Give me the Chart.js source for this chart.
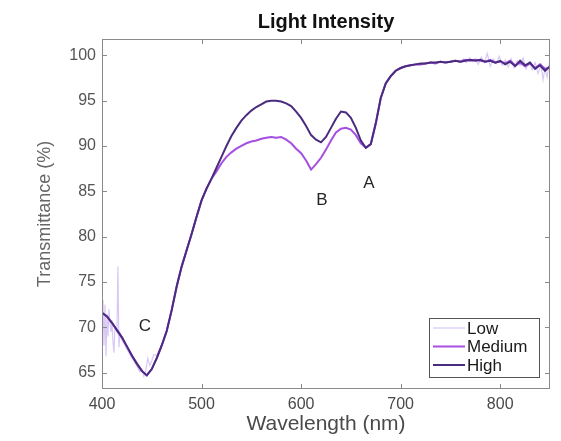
<!DOCTYPE html>
<html>
<head>
<meta charset="utf-8">
<title>Light Intensity</title>
<script src="https://cdn.jsdelivr.net/npm/chart.js@4/dist/chart.umd.min.js"></script>
<style>
  html, body { margin: 0; padding: 0; background: #ffffff; }
  canvas { display: block; }
</style>
</head>
<body>
<canvas id="chart" width="561" height="441"></canvas>
<script>
// Transmittance spectra (%) for three light intensities.
const wavelengths = [
  400, 405, 410, 415, 420, 425, 430, 435, 440, 445,
  450, 455, 460, 465, 470, 475, 480, 485, 490, 495,
  500, 505, 510, 515, 520, 525, 530, 535, 540, 545,
  550, 555, 560, 565, 570, 575, 580, 585, 590, 595,
  600, 605, 610, 615, 620, 625, 630, 635, 640, 645,
  650, 655, 660, 665, 670, 675, 680, 685, 690, 695,
  700, 705, 710, 715, 720, 725, 730, 735, 740, 745,
  750, 755, 760, 765, 770, 775, 780, 785, 790, 795,
  800, 805, 810, 815, 820, 825, 830, 835, 840, 845,
  850
];

const highValues = [
  71.6, 71.2, 70.5, 69.7, 68.9, 67.9, 66.9, 66.0, 65.2, 64.7,
  65.4, 66.6, 68.0, 69.6, 71.9, 74.5, 76.7, 78.5, 80.3, 82.2,
  84.0, 85.3, 86.4, 87.6, 88.8, 90.0, 91.1, 92.0, 92.8, 93.4,
  93.9, 94.3, 94.6, 94.9, 95.0, 95.0, 94.9, 94.7, 94.4, 93.8,
  93.1, 92.2, 91.2, 90.7, 90.4, 91.0, 92.0, 93.0, 93.8, 93.7,
  93.1, 92.0, 90.6, 89.8, 90.2, 92.5, 95.3, 96.9, 97.7, 98.3,
  98.6, 98.8, 98.9, 99.0, 99.1, 99.1, 99.2, 99.2, 99.3, 99.2,
  99.3, 99.4, 99.3, 99.4, 99.5, 99.4, 99.5, 99.3, 99.4, 99.2,
  99.4, 99.0, 99.3, 98.8, 99.4, 98.9, 99.2, 98.5, 98.9, 98.3,
  98.8
];

const mediumValues = [
  71.6, 71.2, 70.5, 69.7, 68.9, 67.9, 66.9, 66.0, 65.2, 64.7,
  65.4, 66.6, 68.0, 69.6, 71.9, 74.5, 76.7, 78.5, 80.3, 82.2,
  84.0, 85.3, 86.4, 87.2, 88.1, 88.8, 89.3, 89.7, 90.0, 90.3,
  90.5, 90.6, 90.8, 90.9, 91.0, 90.9, 91.0, 90.7, 90.3, 89.7,
  89.2, 88.4, 87.4, 88.0, 88.7, 89.6, 90.6, 91.5, 91.9, 92.0,
  91.8, 91.2, 90.3, 89.8, 90.2, 92.5, 95.3, 96.9, 97.7, 98.3,
  98.6, 98.8, 98.9, 99.0, 99.0, 99.1, 99.2, 99.1, 99.3, 99.2,
  99.3, 99.4, 99.3, 99.5, 99.4, 99.5, 99.4, 99.3, 99.5, 99.2,
  99.3, 99.1, 99.4, 98.9, 99.2, 98.8, 99.1, 98.6, 99.0, 98.5,
  98.7
];

// The low-intensity scan is noisier at both ends, so it is sampled more finely there.
const lowWavelengths = [
  400, 401, 402, 403, 404, 405, 406, 407, 408, 409,
  410, 411, 412, 413, 414, 415, 416, 417, 418, 419,
  420, 422, 424, 426, 428, 430, 432, 434, 436, 438,
  440, 442, 444, 446, 448, 450, 452,
  455, 460, 465, 470, 475, 480, 485, 490, 495,
  500, 505, 510, 515, 520, 525, 530, 535, 540, 545,
  550, 555, 560, 565, 570, 575, 580, 585, 590, 595,
  600, 605, 610, 615, 620, 625, 630, 635, 640, 645,
  650, 655, 660, 665, 670, 675, 680, 685, 690, 695,
  700, 705, 710, 715, 720, 725, 730, 735, 740, 745,
  750, 755,
  760, 763, 766, 769, 772, 775, 778, 781, 784, 787,
  790, 793, 796, 799, 802, 805, 808, 811, 814, 817,
  820, 823, 826, 829, 832, 835, 838, 841, 843, 845,
  847, 849, 850
];

const lowValues = [
  70.5, 73.0, 68.0, 72.5, 66.8, 71.5, 69.0, 72.0, 70.5, 69.5,
  70.8, 68.5, 67.2, 70.0, 69.8, 69.5, 76.7, 67.8, 69.3, 68.9,
  68.6, 68.2, 67.8, 67.4, 67.0, 66.6, 66.3, 65.9, 65.5, 65.1,
  65.4, 64.6, 65.3, 66.6, 65.8, 66.3, 67.0,
  66.9, 68.0, 69.6, 71.9, 74.5, 76.7, 78.5, 80.3, 82.2,
  84.0, 85.3, 86.4, 87.2, 88.1, 88.8, 89.3, 89.7, 90.0, 90.3,
  90.5, 90.6, 90.8, 90.9, 91.0, 90.9, 91.0, 90.7, 90.3, 89.7,
  89.2, 88.4, 87.4, 88.0, 88.7, 89.6, 90.6, 91.5, 91.9, 92.0,
  91.8, 91.2, 90.3, 89.8, 90.2, 92.5, 95.3, 96.9, 97.7, 98.3,
  98.6, 98.8, 98.9, 99.0, 99.0, 99.1, 99.2, 99.1, 99.3, 99.2,
  99.3, 99.4,
  99.3, 99.6, 99.2, 99.7, 99.3, 99.6, 99.0, 99.8, 99.2, 100.2,
  98.8, 99.6, 99.1, 99.9, 98.9, 99.5, 98.7, 99.6, 98.6, 99.4,
  98.9, 99.7, 98.5, 99.3, 98.4, 99.2, 98.0, 98.9, 97.3, 98.6,
  97.6, 98.9, 98.2
];

const seriesNames = ['Low', 'Medium', 'High'];
const xTicks = [400, 500, 600, 700, 800];
const yTicks = [65, 70, 75, 80, 85, 90, 95, 100];

// Absorption band markers: label, wavelength, transmittance where the letter sits.
const bandLabels = ['A', 'B', 'C'];
const bandWavelengths = [668, 621, 443];
const bandValues = [85.9, 84.0, 70.15];

const colors = ['#d9c8f7', '#a64fe2', '#4a2c7e'];
const widths = [1.2, 2, 2];
const FONT = "'Liberation Sans', Arial, Helvetica, sans-serif";

function pairs(xs, ys) {
  return xs.map((x, i) => ({ x: x, y: ys[i] }));
}

// Box around the axes with inward tick marks on all four sides,
// plus the band letters and the legend panel.
const axesBox = {
  id: 'axesBox',
  afterDatasetsDraw(chart) {
    const { ctx, chartArea: a, scales: { x, y } } = chart;
    const len = 5;
    ctx.save();
    ctx.strokeStyle = '#8a8a8a';
    ctx.lineWidth = 1;
    ctx.strokeRect(a.left + 0.5, a.top + 0.5, a.right - a.left - 1, a.bottom - a.top - 1);
    ctx.beginPath();
    xTicks.forEach(v => {
      const px = Math.round(x.getPixelForValue(v)) + 0.5;
      ctx.moveTo(px, a.bottom); ctx.lineTo(px, a.bottom - len);
      ctx.moveTo(px, a.top); ctx.lineTo(px, a.top + len);
    });
    yTicks.forEach(v => {
      const py = Math.round(y.getPixelForValue(v)) + 0.5;
      ctx.moveTo(a.left, py); ctx.lineTo(a.left + len, py);
      ctx.moveTo(a.right, py); ctx.lineTo(a.right - len, py);
    });
    ctx.stroke();
    ctx.restore();
  },
  afterDraw(chart) {
    const { ctx, scales: { x, y } } = chart;
    ctx.save();
    ctx.fillStyle = '#262626';
    ctx.font = '17px ' + FONT;
    ctx.textAlign = 'center';
    ctx.textBaseline = 'middle';
    bandLabels.forEach((t, i) => {
      ctx.fillText(t, x.getPixelForValue(bandWavelengths[i]), y.getPixelForValue(bandValues[i]));
    });
    const bx = 429, by = 318, bw = 110, bh = 59;
    ctx.fillStyle = '#ffffff';
    ctx.fillRect(bx, by, bw, bh);
    ctx.strokeStyle = '#555555';
    ctx.lineWidth = 1;
    ctx.strokeRect(bx + 0.5, by + 0.5, bw, bh);
    ctx.font = '17px ' + FONT;
    ctx.textAlign = 'left';
    ctx.fillStyle = '#1a1a1a';
    chart.data.datasets.forEach((ds, i) => {
      const ry = by + 10 + i * 18.5;
      ctx.strokeStyle = ds.borderColor;
      ctx.lineWidth = ds.borderWidth;
      ctx.beginPath();
      ctx.moveTo(bx + 4, ry);
      ctx.lineTo(bx + 36, ry);
      ctx.stroke();
      ctx.fillText(ds.label, bx + 38, ry + 1);
    });
    ctx.restore();
  }
};

new Chart(document.getElementById('chart'), {
  type: 'line',
  data: {
    datasets: [
      { label: seriesNames[0], data: pairs(lowWavelengths, lowValues), order: 2 },
      { label: seriesNames[1], data: pairs(wavelengths, mediumValues), order: 1 },
      { label: seriesNames[2], data: pairs(wavelengths, highValues), order: 0 }
    ].map((d, i) => Object.assign(d, {
      borderColor: colors[i],
      borderWidth: widths[i],
      pointRadius: 0,
      tension: 0,
      fill: false
    }))
  },
  options: {
    responsive: false,
    animation: false,
    layout: { padding: { left: 0, right: 11, top: 0, bottom: 0 } },
    plugins: {
      legend: { display: false },
      tooltip: { enabled: false },
      title: {
        display: true,
        text: 'Light Intensity',
        fullSize: false,
        color: '#111111',
        font: { family: FONT, size: 20, weight: 'bold' },
        padding: { top: 10, bottom: 5 }
      }
    },
    scales: {
      x: {
        type: 'linear',
        min: 400,
        max: 850,
        afterBuildTicks: s => { s.ticks = xTicks.map(v => ({ value: v })); },
        afterFit: s => { s.height = 52; },
        grid: { display: false, drawTicks: false },
        border: { display: false },
        ticks: { color: '#4a4a4a', font: { family: FONT, size: 16 }, padding: 6 },
        title: {
          display: true,
          text: 'Wavelength (nm)',
          color: '#4a4a4a',
          font: { family: FONT, size: 21 },
          padding: { top: 0, bottom: 4 }
        }
      },
      y: {
        type: 'linear',
        min: 63.2,
        max: 101.8,
        afterBuildTicks: s => { s.ticks = yTicks.map(v => ({ value: v })); },
        afterFit: s => { s.width = 102; },
        grid: { display: false, drawTicks: false },
        border: { display: false },
        ticks: { color: '#555555', font: { family: FONT, size: 16 }, padding: 6 },
        title: {
          display: true,
          text: 'Transmittance (%)',
          color: '#666666',
          font: { family: FONT, size: 18 },
          padding: { top: 34, bottom: 0 }
        }
      }
    }
  },
  plugins: [axesBox]
});
</script>
</body>
</html>
